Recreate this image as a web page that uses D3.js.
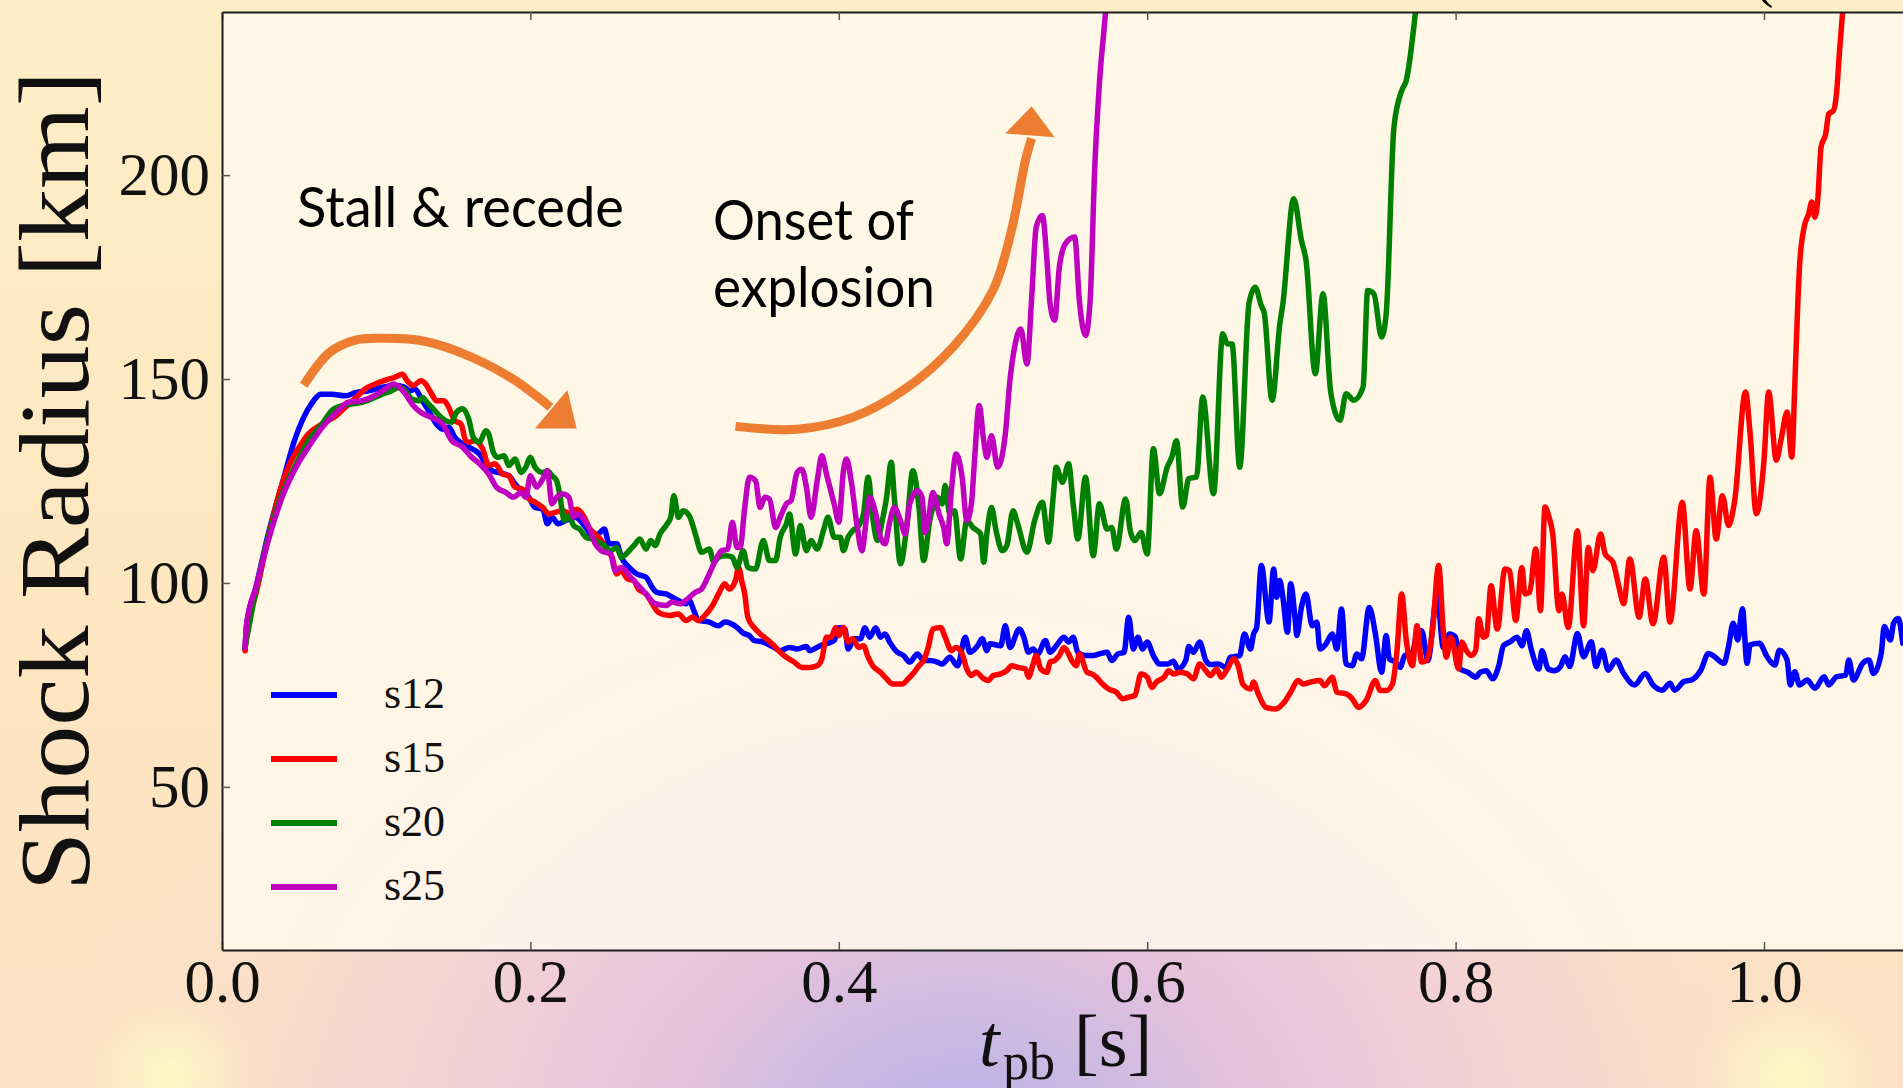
<!DOCTYPE html>
<html>
<head>
<meta charset="utf-8">
<script src="https://cdn.jsdelivr.net/npm/d3@7"></script>
<style>
  html, body { margin: 0; padding: 0; overflow: hidden; background: #fde9c3; }
  svg { display: block; }
</style>
</head>
<body>
<svg id="chart" width="1903" height="1088"></svg>
<script>
// Shock radius [km] versus post-bounce time [s] for four progenitor models.
const seriesNames = ["s12", "s15", "s20", "s25"];
const seriesColors = ["#0000ff", "#ff0000", "#008000", "#bf00bf"];
const timeTicks = [0.0, 0.2, 0.4, 0.6, 0.8, 1.0];
const radiusTicks = [50, 100, 150, 200];

// [t_pb (s), shock radius (km)]
const s12 = [[0.015,83.8],[0.016,89.9],[0.022,98.9],[0.030,112.0],[0.039,124.3],[0.047,134.9],[0.053,140.6],[0.058,143.9],[0.064,146.3],[0.071,146.3],[0.080,145.9],[0.087,146.7],[0.095,147.1],[0.104,148.0],[0.112,148.4],[0.118,148.1],[0.122,147.1],[0.125,147.5],[0.130,144.7],[0.134,142.2],[0.139,139.0],[0.143,137.7],[0.147,138.2],[0.151,135.7],[0.156,134.1],[0.160,133.3],[0.167,131.6],[0.171,129.2],[0.175,127.5],[0.179,127.1],[0.186,126.3],[0.190,124.3],[0.195,122.2],[0.199,121.0],[0.203,118.5],[0.208,118.1],[0.211,114.5],[0.214,116.1],[0.218,114.5],[0.223,115.3],[0.229,116.1],[0.236,113.6],[0.240,111.6],[0.244,112.0],[0.248,113.2],[0.251,109.6],[0.256,109.6],[0.259,106.3],[0.264,103.8],[0.269,102.2],[0.275,101.4],[0.279,98.9],[0.282,97.7],[0.288,97.3],[0.294,96.1],[0.301,94.9],[0.303,95.7],[0.306,93.2],[0.309,90.8],[0.316,90.4],[0.322,89.5],[0.326,90.4],
  [0.334,89.1],[0.338,87.7],[0.342,87.1],[0.345,85.9],[0.351,85.5],[0.358,84.2],[0.362,83.4],[0.368,84.2],[0.373,83.8],[0.379,84.4],[0.381,83.4],[0.388,84.6],[0.392,85.1],[0.397,85.9],[0.400,89.0],[0.404,88.7],[0.406,83.8],[0.410,86.3],[0.414,86.3],[0.417,89.0],[0.420,86.7],[0.424,89.0],[0.427,86.7],[0.430,87.5],[0.433,85.5],[0.438,83.0],[0.442,82.2],[0.446,80.6],[0.451,82.6],[0.455,81.0],[0.459,81.0],[0.464,80.6],[0.467,80.1],[0.472,81.8],[0.477,79.7],[0.482,86.7],[0.485,83.0],[0.490,84.6],[0.493,86.3],[0.496,83.4],[0.498,85.1],[0.505,84.6],[0.508,89.5],[0.511,84.2],[0.517,88.7],[0.520,86.7],[0.523,83.0],[0.526,83.8],[0.529,82.6],[0.534,85.9],[0.537,83.0],[0.541,84.6],[0.546,86.7],[0.549,85.5],[0.552,86.7],[0.555,83.0],[0.560,82.2],[0.565,82.2],[0.569,82.6],[0.574,83.0],[0.577,81.0],[0.581,82.6],[0.585,83.0],[0.588,91.6],[0.591,83.8],[0.594,86.7],[0.597,83.8],[0.600,85.5],[0.604,82.2],[0.608,80.1],[0.613,80.1],[0.617,80.8],[0.620,78.9],[0.625,81.0],[0.627,84.4],[0.630,83.0],[0.634,85.5],[0.638,81.0],[0.641,80.0],[0.646,80.1],[0.651,79.3],[0.654,81.8],[0.660,82.2],
  [0.663,87.5],[0.667,83.8],[0.669,87.5],[0.671,89.1],[0.674,104.3],[0.679,90.4],[0.682,103.4],[0.684,96.5],[0.686,100.6],[0.688,96.5],[0.691,87.9],[0.693,99.8],[0.696,90.8],[0.697,87.1],[0.700,94.0],[0.703,97.3],[0.707,89.5],[0.710,90.4],[0.712,83.8],[0.716,85.1],[0.720,87.5],[0.723,83.8],[0.726,93.6],[0.729,80.1],[0.733,79.7],[0.736,82.6],[0.739,81.4],[0.744,94.0],[0.748,87.5],[0.752,78.1],[0.755,87.1],[0.757,81.4],[0.761,80.6],[0.764,79.3],[0.767,82.2],[0.772,83.0],[0.775,87.5],[0.778,88.3],[0.782,81.0],[0.788,97.0],[0.792,84.2],[0.796,87.5],[0.800,86.7],[0.803,78.9],[0.808,78.1],[0.813,76.9],[0.816,78.1],[0.820,78.5],[0.824,76.5],[0.828,79.7],[0.831,84.6],[0.835,85.5],[0.840,86.7],[0.843,84.6],[0.846,88.3],[0.849,83.8],[0.854,78.9],[0.856,83.4],[0.860,78.9],[0.864,78.5],
  [0.868,79.5],[0.871,81.9],[0.874,79.5],[0.879,87.6],[0.883,81.9],[0.888,85.6],[0.891,79.5],[0.895,83.5],[0.899,78.6],[0.904,81.1],[0.909,77.8],[0.916,75.0],[0.923,77.8],[0.928,75.0],[0.934,73.7],[0.939,75.4],[0.942,73.7],[0.948,75.8],[0.953,76.2],[0.959,78.6],[0.964,82.7],[0.968,81.9],[0.974,80.3],[0.977,84.4],[0.980,90.1],[0.983,86.0],[0.986,93.7],[0.989,80.3],[0.991,84.8],[0.997,85.2],[1.002,81.9],[1.007,79.9],[1.010,83.5],[1.015,81.1],[1.017,75.0],[1.020,78.2],[1.023,75.0],[1.028,76.2],[1.033,74.2],[1.039,77.0],[1.042,75.0],[1.047,77.0],[1.053,77.4],[1.055,81.1],[1.058,76.2],[1.064,80.3],[1.068,81.1],[1.071,77.8],[1.076,82.7],[1.078,89.3],[1.082,86.0],[1.084,90.1],[1.087,91.3],[1.090,85.2]];

const s15 = [[0.015,83.4],[0.016,89.1],[0.022,97.3],[0.030,111.2],[0.037,121.8],[0.043,128.4],[0.050,133.3],[0.056,136.5],[0.065,139.0],[0.074,141.0],[0.080,143.1],[0.087,145.5],[0.093,147.6],[0.102,149.2],[0.108,150.0],[0.112,150.4],[0.117,151.2],[0.120,149.6],[0.124,148.4],[0.129,149.6],[0.132,148.8],[0.136,146.3],[0.139,144.7],[0.144,144.7],[0.147,143.1],[0.151,139.8],[0.155,139.0],[0.158,134.9],[0.160,134.5],[0.164,134.9],[0.169,132.9],[0.173,128.8],[0.177,129.2],[0.182,126.7],[0.186,126.3],[0.190,123.5],[0.195,123.0],[0.199,120.6],[0.203,119.8],[0.208,118.5],[0.212,116.9],[0.216,117.3],[0.221,117.7],[0.226,116.9],[0.230,118.1],[0.235,116.1],[0.238,113.6],[0.242,112.0],[0.246,110.4],[0.250,107.9],[0.253,106.3],[0.256,102.2],[0.259,103.0],[0.263,101.0],[0.267,100.6],[0.270,98.5],[0.275,97.3],[0.279,94.9],[0.283,92.8],[0.290,92.0],[0.296,92.4],[0.301,90.8],[0.305,91.6],[0.309,90.8],[0.313,92.0],[0.318,94.4],[0.322,97.3],
  [0.326,99.8],[0.329,98.5],[0.333,100.6],[0.335,103.8],[0.337,100.6],[0.339,97.3],[0.341,91.6],[0.345,89.1],[0.349,87.5],[0.353,86.3],[0.358,84.6],[0.362,83.0],[0.366,81.8],[0.371,80.6],[0.376,79.3],[0.381,79.3],[0.386,79.7],[0.389,81.4],[0.392,86.7],[0.395,86.7],[0.398,89.1],[0.400,87.1],[0.403,89.1],[0.406,85.5],[0.409,86.3],[0.413,84.2],[0.416,84.6],[0.419,81.8],[0.422,79.7],[0.427,78.1],[0.431,76.5],[0.435,75.2],[0.441,75.2],[0.445,76.5],[0.448,77.7],[0.452,79.7],[0.455,81.0],[0.458,84.2],[0.461,88.7],[0.466,89.1],[0.469,86.7],[0.473,83.4],[0.476,84.2],[0.480,82.6],[0.483,78.9],[0.486,77.3],[0.489,78.1],[0.494,76.5],[0.497,76.1],[0.500,77.3],[0.505,77.7],[0.509,78.5],[0.512,79.7],[0.516,79.3],[0.521,78.9],[0.523,76.9],[0.526,80.1],[0.528,82.2],[0.531,78.9],[0.535,78.1],[0.537,80.6],[0.540,81.0],[0.543,82.2],[0.546,84.2],[0.549,82.6],[0.551,81.0],[0.554,79.7],[0.556,82.6],[0.561,78.1],[0.564,77.7],[0.567,76.9],[0.571,75.2],[0.575,74.0],[0.580,73.2],[0.584,71.6],[0.588,72.0],[0.592,72.4],[0.596,77.7],[0.600,76.9],[0.603,74.4],[0.606,75.7],[0.611,76.9],[0.614,78.5],[0.617,77.7],[0.621,78.1],[0.626,77.7],[0.630,76.5],[0.634,80.1],[0.638,78.5],[0.641,77.3],[0.645,78.9],[0.648,76.9],[0.652,78.9],[0.656,81.4],
  [0.659,79.7],[0.662,75.2],[0.667,74.0],[0.669,75.7],[0.672,72.8],[0.677,69.5],[0.683,69.1],[0.689,70.8],[0.693,73.2],[0.698,76.1],[0.701,75.2],[0.706,75.7],[0.712,76.1],[0.715,74.8],[0.720,76.9],[0.723,73.2],[0.729,72.8],[0.733,71.6],[0.737,69.5],[0.742,71.2],[0.748,76.1],[0.751,73.6],[0.755,73.6],[0.759,75.2],[0.762,83.4],[0.765,97.3],[0.768,85.9],[0.772,79.7],[0.775,89.5],[0.778,80.6],[0.781,81.0],[0.785,88.3],[0.789,104.3],[0.792,88.3],[0.794,81.8],[0.797,86.7],[0.802,78.9],[0.804,85.5],[0.807,83.4],[0.810,82.2],[0.813,83.4],[0.815,91.2],[0.818,86.7],[0.820,87.1],[0.823,99.3],[0.827,88.7],[0.832,103.4],[0.835,103.0],[0.839,90.8],[0.843,103.8],[0.845,97.3],[0.848,97.7],[0.852,108.3],[0.855,93.2],[0.858,118.6],[0.860,116.9],[0.863,112.0],[0.867,93.2],[0.869,97.3],[0.873,89.1],[0.879,112.8],[0.883,89.5],[0.886,108.7],[0.889,103.0],[0.894,112.0],[0.897,107.1],[0.902,105.1],[0.906,98.9],[0.909,94.9],[0.913,105.9],[0.919,91.6],[0.923,101.0],[0.928,90.0],[0.935,106.3],[0.939,90.4],[0.947,119.8],[0.952,98.5],[0.956,112.8],[0.961,97.3],[0.965,125.9],[0.969,110.8],[0.973,121.4],[0.977,114.1],[0.981,120.2],
  [0.988,146.8],[0.991,136.6],[0.995,117.0],[1.000,130.1],[1.003,146.8],[1.008,130.1],[1.011,135.0],[1.015,141.9],[1.018,130.9],[1.020,148.8],[1.022,169.3],[1.023,177.4],[1.026,187.2],[1.029,190.5],[1.031,193.4],[1.033,189.7],[1.035,194.6],[1.037,206.9],[1.040,210.1],[1.042,215.0],[1.045,215.8],[1.047,219.9],[1.049,230.5],[1.051,240.0],[1.054,255.0]];

const s20 = [[0.015,84.2],[0.022,98.1],[0.030,111.2],[0.039,121.8],[0.048,129.2],[0.056,134.9],[0.065,139.0],[0.071,142.2],[0.078,143.5],[0.084,143.9],[0.091,144.3],[0.097,145.1],[0.104,146.3],[0.110,147.1],[0.115,148.0],[0.119,147.1],[0.123,145.1],[0.128,144.7],[0.130,145.5],[0.133,144.3],[0.136,143.1],[0.141,141.0],[0.145,139.8],[0.149,139.4],[0.152,141.8],[0.156,142.7],[0.160,140.2],[0.163,135.7],[0.167,134.5],[0.171,137.3],[0.173,136.5],[0.176,132.0],[0.179,130.8],[0.183,131.2],[0.186,128.8],[0.190,130.4],[0.194,127.1],[0.197,128.4],[0.200,130.8],[0.203,128.4],[0.208,127.1],[0.211,127.5],[0.214,126.3],[0.217,125.1],[0.219,121.8],[0.222,115.3],[0.225,116.5],[0.228,114.1],[0.232,113.2],[0.236,111.2],[0.240,110.8],[0.244,110.0],[0.248,109.2],[0.252,107.9],[0.256,108.7],[0.259,106.3],[0.264,107.9],[0.268,109.6],[0.271,110.8],[0.275,108.3],[0.278,110.4],[0.281,109.2],[0.284,112.0],[0.288,114.1],[0.291,116.1],[0.293,121.4],[0.296,116.1],[0.299,117.7],[0.303,116.5],[0.307,112.0],[0.311,107.5],[0.316,108.3],[0.319,105.1],[0.322,106.3],
  [0.327,106.7],[0.331,106.3],[0.334,103.8],[0.338,107.9],[0.341,103.8],[0.346,103.4],[0.351,110.4],[0.355,105.5],[0.359,105.5],[0.362,111.2],[0.366,114.5],[0.368,116.9],[0.372,107.1],[0.375,114.1],[0.379,107.9],[0.382,110.4],[0.386,108.3],[0.390,112.8],[0.393,116.1],[0.397,111.2],[0.401,111.2],[0.403,107.9],[0.406,111.2],[0.409,112.8],[0.413,114.1],[0.416,116.9],[0.419,125.9],[0.422,116.1],[0.425,110.4],[0.428,114.9],[0.431,121.0],[0.434,129.6],[0.436,121.0],[0.440,104.7],[0.444,113.6],[0.448,127.5],[0.452,118.5],[0.455,105.5],[0.459,115.3],[0.464,121.0],[0.467,119.4],[0.469,123.9],[0.472,116.9],[0.475,117.7],[0.479,105.9],[0.483,115.3],[0.487,113.6],[0.492,112.0],[0.494,105.1],[0.496,112.0],[0.499,118.5],[0.502,112.8],[0.506,107.9],[0.509,109.2],[0.513,117.7],[0.516,114.5],[0.522,107.5],[0.527,115.3],[0.532,119.8],[0.536,110.0],[0.539,121.0],[0.541,128.4],[0.545,124.7],[0.549,129.2],[0.552,119.4],[0.555,110.8],[0.560,125.9],[0.565,106.7],[0.569,119.4],[0.574,113.2],[0.577,113.6],[0.580,108.3],[0.586,120.6],[0.589,112.8],[0.592,110.4],[0.596,112.4],[0.600,107.1],
  [0.604,132.9],[0.608,121.9],[0.613,128.4],[0.616,130.9],[0.619,134.9],[0.623,118.6],[0.627,125.6],[0.632,126.0],[0.636,145.6],[0.643,121.9],[0.649,161.1],[0.652,158.6],[0.655,158.6],[0.660,128.4],[0.666,168.5],[0.670,172.5],[0.674,168.0],[0.676,166.0],[0.681,144.8],[0.686,163.5],[0.688,168.5],[0.695,194.2],[0.700,184.0],[0.703,179.1],[0.709,151.3],[0.714,170.9],[0.719,146.8],[0.725,139.9],[0.729,146.4],[0.734,144.8],[0.740,148.0],[0.743,171.7],[0.747,170.9],[0.752,160.3],[0.755,166.0],[0.760,211.7],[0.765,220.7],[0.768,223.2],[0.774,240.0],[0.778,255.0]];

const s25 = [[0.015,84.2],[0.016,89.9],[0.022,98.9],[0.030,110.4],[0.039,121.0],[0.048,128.4],[0.056,133.3],[0.065,138.2],[0.074,141.8],[0.082,144.3],[0.091,144.7],[0.099,145.9],[0.106,147.6],[0.111,148.8],[0.115,148.0],[0.119,146.3],[0.124,143.5],[0.129,141.8],[0.136,140.6],[0.143,139.0],[0.149,134.9],[0.156,133.3],[0.161,131.2],[0.167,129.2],[0.173,126.7],[0.178,123.5],[0.184,122.2],[0.189,121.0],[0.194,122.2],[0.197,121.0],[0.200,126.3],[0.204,123.5],[0.208,125.5],[0.211,127.5],[0.214,119.4],[0.217,121.0],[0.221,121.8],[0.225,121.0],[0.228,116.1],[0.231,116.9],[0.235,115.3],[0.238,113.6],[0.242,109.6],[0.246,107.9],[0.252,107.1],[0.255,103.0],[0.259,103.8],[0.265,101.4],[0.269,99.8],[0.275,97.3],[0.281,94.9],[0.288,94.5],[0.292,95.3],[0.297,94.9],[0.302,96.1],[0.307,97.7],[0.311,98.5],[0.316,102.2],[0.320,105.5],[0.324,107.9],[0.328,108.3],[0.331,114.9],[0.334,108.7],
  [0.336,108.7],[0.339,118.5],[0.342,125.9],[0.346,125.1],[0.349,118.5],[0.352,121.0],[0.355,120.6],[0.359,113.6],[0.362,116.1],[0.366,119.4],[0.369,120.2],[0.373,127.1],[0.376,127.9],[0.379,123.5],[0.382,116.1],[0.386,125.1],[0.389,131.2],[0.392,126.7],[0.397,119.4],[0.400,114.9],[0.403,127.5],[0.405,130.4],[0.408,125.1],[0.412,113.6],[0.415,107.9],[0.418,116.1],[0.420,121.0],[0.424,116.9],[0.427,111.2],[0.430,109.6],[0.433,114.9],[0.436,118.5],[0.440,115.3],[0.443,112.0],[0.446,119.4],[0.451,122.6],[0.454,121.0],[0.456,112.4],[0.458,115.3],[0.461,122.2],[0.465,116.9],[0.468,113.6],[0.470,109.6],[0.473,122.6],[0.476,131.6],[0.480,125.9],[0.483,115.3],[0.486,119.4],[0.488,130.0],[0.491,143.5],[0.494,134.9],[0.496,130.8],[0.499,136.1],[0.503,128.4],[0.508,136.5],[0.511,149.7],
  [0.514,157.8],[0.518,162.3],[0.522,153.7],[0.525,169.3],[0.528,187.2],[0.532,190.1],[0.535,179.1],[0.537,168.5],[0.540,164.4],[0.543,177.4],[0.547,183.2],[0.553,184.8],[0.556,169.3],[0.560,160.7],[0.563,169.3],[0.566,202.0],[0.569,222.4],[0.573,240.0],[0.576,255.0]];

const seriesData = [s12, s15, s20, s25];

// Hand-drawn annotation arrows, in data units [t, km]
const stallArrow = [[0.053,148.5],[0.070,156.6],[0.086,159.5],[0.103,160.0],[0.128,159.5],[0.154,156.6],[0.187,150.4],[0.213,143.1]];
const stallHead = [[0.203,137.9],[0.224,147.3],[0.230,137.9]];
const onsetArrow = [[0.333,138.4],[0.373,137.7],[0.409,140.6],[0.442,147.3],[0.474,157.8],[0.500,171.8],[0.512,186.5],[0.521,203.6],[0.525,209.0]];
const onsetHead = [[0.508,210.2],[0.540,209.3],[0.525,216.9]];

const W = 1903, H = 1088;
const plot = { left: 222, top: 12, bottom: 950 };
const x = d3.scaleLinear().domain([0, 1.1]).range([plot.left, plot.left + 1.1 * 1542]);
const y = d3.scaleLinear().domain([10, 240]).range([plot.bottom, plot.top]);

const svg = d3.select("#chart");
const defs = svg.append("defs");

// Backdrop: warm peach field with a violet glow rising from the bottom centre
const base = defs.append("linearGradient").attr("id", "base").attr("x1", 0).attr("y1", 0).attr("x2", 0).attr("y2", 1);
base.append("stop").attr("offset", 0).attr("stop-color", "#fdeec6");
base.append("stop").attr("offset", 0.6).attr("stop-color", "#fde6c0");
base.append("stop").attr("offset", 1).attr("stop-color", "#fbe0c4");

const glow = defs.append("radialGradient").attr("id", "glow")
  .attr("gradientUnits", "userSpaceOnUse").attr("cx", 960).attr("cy", 1150).attr("r", 950)
  .attr("gradientTransform", "translate(960,1150) scale(1,0.8) translate(-960,-1150)");
[[0, "#b4b2e8", 1], [0.14, "#c8b8e4", 1], [0.32, "#e6c2dc", 1], [0.55, "#f3d0d6", 0.95], [0.78, "#f9dccb", 0.55], [1, "#fde6c4", 0]]
  .forEach(([o, c, a]) => glow.append("stop").attr("offset", o).attr("stop-color", c).attr("stop-opacity", a));

const yellowGlow = defs.append("radialGradient").attr("id", "yglow");
yellowGlow.append("stop").attr("offset", 0).attr("stop-color", "#fffac4").attr("stop-opacity", 0.9);
yellowGlow.append("stop").attr("offset", 1).attr("stop-color", "#fffac4").attr("stop-opacity", 0);

defs.append("clipPath").attr("id", "plotClip")
  .append("rect").attr("x", plot.left).attr("y", plot.top).attr("width", W - plot.left).attr("height", plot.bottom - plot.top);

svg.append("rect").attr("width", W).attr("height", H).attr("fill", "url(#base)");
svg.append("rect").attr("width", W).attr("height", H).attr("fill", "url(#glow)");
svg.append("ellipse").attr("cx", 170).attr("cy", 1075).attr("rx", 90).attr("ry", 80).attr("fill", "url(#yglow)");
svg.append("ellipse").attr("cx", 1790).attr("cy", 1075).attr("rx", 100).attr("ry", 80).attr("fill", "url(#yglow)");

// Plot face: translucent cream panel
svg.append("rect")
  .attr("x", plot.left).attr("y", plot.top).attr("width", W - plot.left).attr("height", plot.bottom - plot.top)
  .attr("fill", "#fffaee").attr("fill-opacity", 0.8);

// Series lines
const line = d3.line().x(d => x(d[0])).y(d => y(d[1])).curve(d3.curveMonotoneX);
const lines = svg.append("g").attr("clip-path", "url(#plotClip)");
seriesData.forEach((data, i) => {
  lines.append("path")
    .datum(data)
    .attr("d", line)
    .attr("fill", "none")
    .attr("stroke", seriesColors[i])
    .attr("stroke-width", 5.5)
    .attr("stroke-linejoin", "round")
    .attr("stroke-linecap", "round");
});

// Annotations
const orange = "#ed7d31";
const arrowLine = d3.line().x(d => x(d[0])).y(d => y(d[1])).curve(d3.curveCatmullRom.alpha(0.5));
const ann = svg.append("g");
[[stallArrow, stallHead], [onsetArrow, onsetHead]].forEach(([body, head]) => {
  ann.append("path").datum(body).attr("d", arrowLine)
    .attr("fill", "none").attr("stroke", orange).attr("stroke-width", 9);
  ann.append("path").datum(head)
    .attr("d", d3.line().x(d => x(d[0])).y(d => y(d[1])).curve(d3.curveLinearClosed))
    .attr("fill", orange);
});

const annFont = "Lato, 'Open Sans', sans-serif";
ann.append("text").attr("x", 297).attr("y", 227).attr("font-family", annFont).attr("font-size", 56)
  .attr("textLength", 327).attr("lengthAdjust", "spacingAndGlyphs").attr("fill", "#000").text("Stall & recede");
ann.append("text").attr("x", 713).attr("y", 240).attr("font-family", annFont).attr("font-size", 56)
  .attr("textLength", 201).attr("lengthAdjust", "spacingAndGlyphs").attr("fill", "#000").text("Onset of");
ann.append("text").attr("x", 713).attr("y", 307).attr("font-family", annFont).attr("font-size", 56)
  .attr("textLength", 222).attr("lengthAdjust", "spacingAndGlyphs").attr("fill", "#000").text("explosion");

// Legend
const serif = "'Liberation Serif', 'DejaVu Serif', serif";
const legend = svg.append("g");
seriesNames.forEach((name, i) => {
  const ly = 695 + i * 64;
  legend.append("line").attr("x1", 271).attr("x2", 337).attr("y1", ly).attr("y2", ly)
    .attr("stroke", seriesColors[i]).attr("stroke-width", 6);
  legend.append("text").attr("x", 384).attr("y", ly + 13).attr("font-family", serif).attr("font-size", 44)
    .attr("fill", "#111").text(name);
});

// Axes: ticks point inward, classic style
const axisStyle = g => {
  g.selectAll(".domain").attr("stroke", "#1e1e1e").attr("stroke-width", 2);
  g.selectAll(".tick line").attr("stroke", "#555").attr("stroke-width", 1.5);
  g.selectAll(".tick text").attr("font-family", serif).attr("font-size", 61).attr("fill", "#111");
};
svg.append("g").attr("transform", `translate(0,${plot.bottom})`)
  .call(d3.axisBottom(x).tickValues(timeTicks).tickFormat(d3.format(".1f")).tickSizeInner(-8).tickSizeOuter(0).tickPadding(9))
  .call(axisStyle);
svg.append("g").attr("transform", `translate(0,${plot.top})`)
  .call(d3.axisTop(x).tickValues(timeTicks).tickFormat("").tickSizeInner(-8).tickSizeOuter(0))
  .call(axisStyle);
svg.append("g").attr("transform", `translate(${plot.left},0)`)
  .call(d3.axisLeft(y).tickValues(radiusTicks).tickFormat(d3.format("d")).tickSizeInner(-8).tickSizeOuter(0).tickPadding(12))
  .call(axisStyle);

// Axis titles
svg.append("text")
  .attr("transform", "translate(88,481) rotate(-90)")
  .attr("text-anchor", "middle").attr("font-family", serif).attr("font-size", 100)
  .attr("textLength", 820).attr("lengthAdjust", "spacingAndGlyphs")
  .attr("fill", "#111").text("Shock Radius [km]");

const xt = svg.append("text").attr("y", 1066).attr("font-family", serif).attr("font-size", 74).attr("fill", "#111");
xt.append("tspan").attr("x", 979).attr("font-style", "italic").text("t");
xt.append("tspan").attr("x", 1003).attr("y", 1079).attr("font-size", 52).text("pb");
xt.append("tspan").attr("x", 1074).attr("y", 1066).text("[s]");

// Edge of the heading above the panel
svg.append("text").attr("x", 1764).attr("y", -4).attr("text-anchor", "middle")
  .attr("font-family", serif).attr("font-size", 56).attr("fill", "#000").text("(");
</script>
</body>
</html>
